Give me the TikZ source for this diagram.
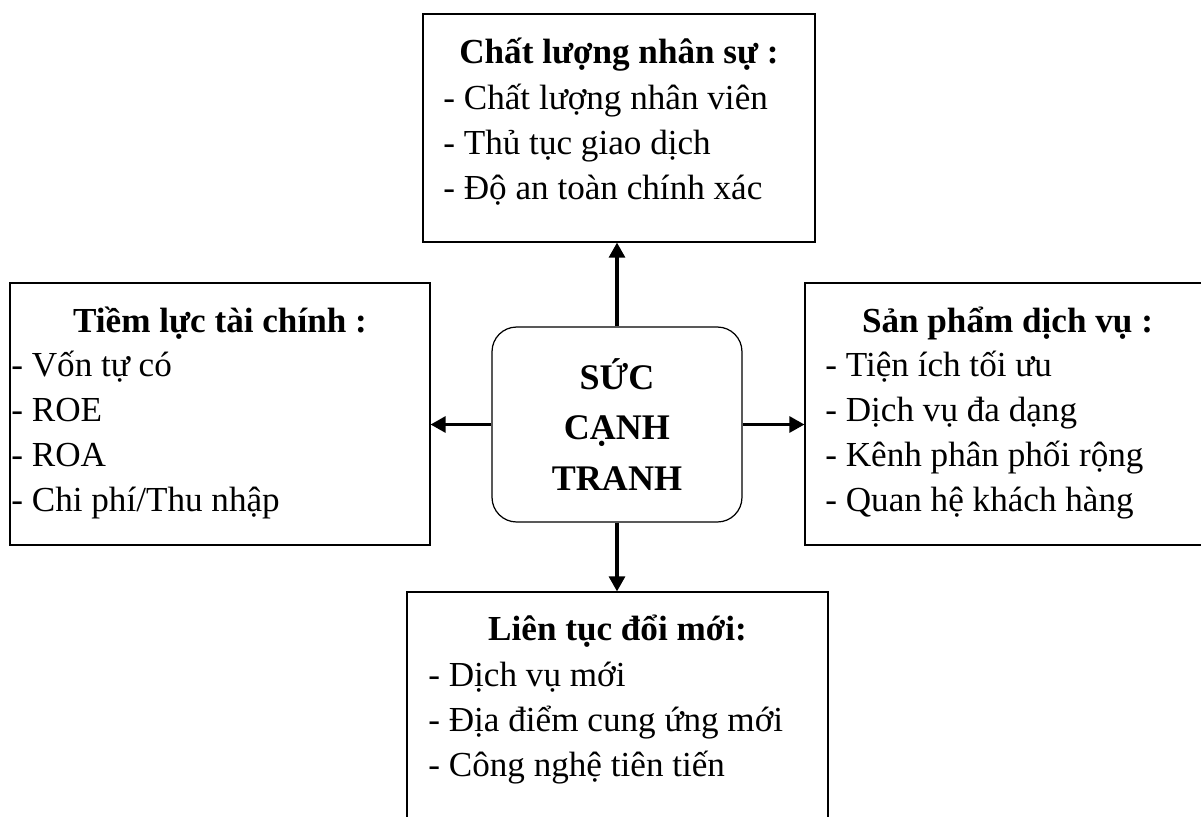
\documentclass[tikz,border=0pt]{standalone}
\usepackage{fontspec}
\setmainfont{Liberation Serif}
\usetikzlibrary{arrows.meta,positioning,calc}
\newcommand{\boxfont}{\fontsize{20}{25.5}\selectfont}
\tikzset{
  box/.style={draw,line width=0.7pt,inner sep=0pt},
  head/.style={font=\boxfont\bfseries,anchor=base,inner sep=0pt},
  items/.style={font=\boxfont,align=left,anchor=base west,inner sep=0pt},
  link/.style={->,line width=1.8pt}
}
\begin{document}
\begin{tikzpicture}[x=0.02cm,y=-0.02cm,>={Triangle[length=8.5pt,width=9pt]},font=\boxfont]
 \clip (0,0) rectangle (1201,816);
 % boxes
 \node[box,rounded corners=14pt,minimum width=5cm,minimum height=3.9cm] (core) at (617,424.5){};
 \node[box,minimum width=7.84cm,minimum height=4.56cm] (staff) at (619,128){};
 \node[box,minimum width=8.4cm,minimum height=5.24cm] (fin) at (220,414){};
 \node[box,minimum width=8.1cm,minimum height=5.24cm] (prod) at (1007.5,414){};
 \node[box,minimum width=8.42cm,minimum height=4.8cm] (innov) at (617.5,712){};
 % texts (items anchored at the baseline of their last line)
 \node[align=center,font=\fontsize{20.5}{29}\selectfont\bfseries,inner sep=0pt] (coretxt) at (core){SỨC\\CẠNH\\TRANH};
 \node[head] (staffhd) at (619,63){Chất lượng nhân sự :};
 \node[items] (staffit) at (443,199){- Chất lượng nhân viên\\- Thủ tục giao dịch\\- Độ an toàn chính xác};
 \node[head] (finhd) at (220,332){Tiềm lực tài chính :};
 \node[items] (finit) at (11,511){- Vốn tự có\\- ROE\\- ROA\\- Chi phí/Thu nhập};
 \node[head] (prodhd) at (1007.5,332){Sản phẩm dịch vụ :};
 \node[items] (prodit) at (825,511){- Tiện ích tối ưu\\- Dịch vụ đa dạng\\- Kênh phân phối rộng\\- Quan hệ khách hàng};
 \node[head] (innovhd) at (617.5,640){Liên tục đổi mới:};
 \node[items] (innovit) at (428,776){- Dịch vụ mới\\- Địa điểm cung ứng mới\\- Công nghệ tiên tiến};
 % arrows
 \draw[link] (core.north) -- (core.north |- staff.south);
 \draw[link] (core.south) -- (core.south |- innov.north);
 \draw[link] (core.west) -- (core.west -| fin.east);
 \draw[link] (core.east) -- (core.east -| prod.west);
\end{tikzpicture}
\end{document}
